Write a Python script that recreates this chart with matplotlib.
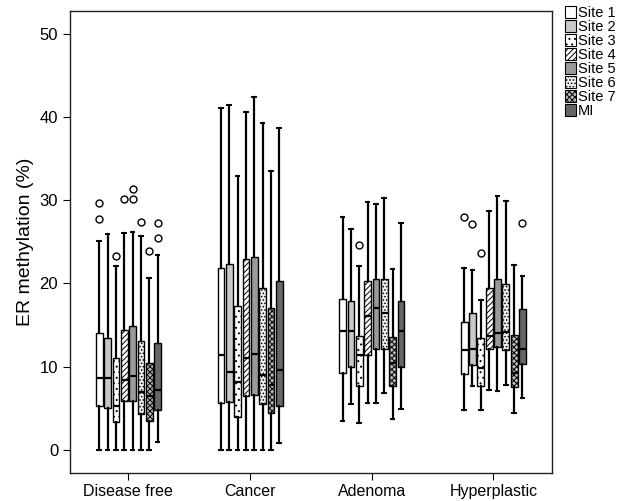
import matplotlib
matplotlib.use('Agg')
import matplotlib.pyplot as plt
from matplotlib.patches import Patch

plt.rcParams['font.family'] = ['Liberation Sans', 'DejaVu Sans']
plt.rcParams['hatch.linewidth'] = 0.7

# Data
groups = ["Disease free", "Cancer", "Adenoma", "Hyperplastic"]
sites = ["Site 1", "Site 2", "Site 3", "Site 4", "Site 5", "Site 6", "Site 7", "MI"]

# per group: 8 values, one per site
whislo = [
    [0, 0, 0, 0, 0, 0, 0, 1.0],
    [0, 0, 0, 0, 0, 0, 0, 0.8],
    [3.5, 5.5, 3.3, 5.6, 5.7, 6.8, 3.7, 4.9],
    [4.8, 7.7, 4.8, 7.2, 7.1, 7.8, 4.4, 6.2],
]
q1 = [
    [5.3, 5.1, 3.4, 5.9, 5.9, 4.3, 3.5, 4.8],
    [5.7, 5.8, 4.0, 6.5, 6.6, 5.5, 4.5, 5.3],
    [9.3, 10.0, 7.7, 11.4, 12.1, 12.1, 7.7, 10.0],
    [9.1, 10.2, 7.7, 12.1, 12.4, 12.0, 7.6, 10.3],
]
med = [
    [8.7, 8.6, 5.3, 8.4, 8.9, 7.0, 6.5, 7.2],
    [11.4, 9.4, 8.2, 11.1, 11.5, 9.0, 7.8, 9.6],
    [14.3, 14.3, 11.4, 16.1, 17.1, 16.5, 10.5, 14.3],
    [12.0, 12.1, 9.9, 13.7, 14.1, 14.2, 9.3, 12.1],
]
q3 = [
    [14.0, 13.4, 11.1, 14.4, 14.9, 13.1, 10.4, 12.9],
    [21.8, 22.3, 17.3, 22.9, 23.2, 19.5, 17.1, 20.3],
    [18.1, 17.9, 13.7, 20.3, 20.5, 20.5, 13.6, 17.9],
    [15.4, 16.5, 13.5, 19.5, 20.5, 19.9, 13.8, 16.9],
]
whishi = [
    [25.1, 25.9, 22.1, 26.1, 26.2, 25.7, 20.7, 23.4],
    [41.0, 41.4, 32.9, 40.6, 42.4, 39.3, 33.5, 38.6],
    [28.0, 26.5, 22.1, 29.8, 29.5, 30.3, 21.7, 27.2],
    [21.8, 21.6, 18.0, 28.7, 30.5, 29.9, 22.2, 20.9],
]
outliers = [
    [[27.7, 29.6], [], [23.3], [30.1], [30.1, 31.3], [27.4], [23.9], [25.5, 27.2]],
    [[], [], [], [], [], [], [], []],
    [[], [], [24.6], [], [], [], [], []],
    [[28.0], [27.1], [23.7], [], [], [], [], [27.2]],
]

# box styles per site: facecolor, hatch
styles = [
    ("white", None),
    ("#c8c8c8", None),
    ("white", "..."),
    ("white", "//////"),
    ("#9a9a9a", None),
    ("#f0f0f0", "....."),
    ("#bbbbbb", "xxxxxx"),
    ("#666666", None),
]

fig = plt.figure(figsize=(6.19, 5.01), dpi=100)
ax = fig.add_axes([0.1131, 0.0565, 0.7782, 0.9215])

step = 0.0685
width = 0.055
for g in range(len(groups)):
    for s in range(len(sites)):
        st = [dict(whislo=whislo[g][s], q1=q1[g][s], med=med[g][s], q3=q3[g][s],
                   whishi=whishi[g][s], fliers=outliers[g][s])]
        pos = g + (s - 3.5) * step
        res = ax.bxp(st, positions=[pos], widths=width, patch_artist=True,
                     showfliers=True, manage_ticks=False,
                     boxprops=dict(linewidth=1.0, edgecolor='black'),
                     medianprops=dict(color='black', linewidth=1.6),
                     whiskerprops=dict(color='black', linewidth=1.6),
                     capprops=dict(color='black', linewidth=1.4),
                     capwidths=width * 0.55,
                     flierprops=dict(marker='o', markerfacecolor='none',
                                     markeredgecolor='black', markersize=5,
                                     markeredgewidth=1.0))
        fc, h = styles[s]
        for b in res['boxes']:
            b.set_facecolor(fc)
            if h:
                b.set_hatch(h)

ax.set_xlim(-0.48, 3.48)
ax.set_ylim(-2.72, 52.7)
ax.set_xticks(range(len(groups)))
ax.set_xticklabels(groups, fontsize=11.5)
ax.set_yticks([0, 10, 20, 30, 40, 50])
ax.tick_params(axis='y', labelsize=12, length=5, direction='out')
ax.tick_params(axis='x', length=5, direction='out')
ax.set_ylabel("ER methylation (%)", fontsize=14)
for sp in ax.spines.values():
    sp.set_linewidth(1.0)
    sp.set_color('#222222')

handles = [Patch(facecolor=fc, edgecolor='black', hatch=h, linewidth=0.8)
           for fc, h in styles]
fig.legend(handles, sites, loc='upper left', bbox_to_anchor=(0.912, 0.988),
           frameon=False, fontsize=10.5, handlelength=0.8, handleheight=0.8,
           handletextpad=0.1, labelspacing=0.0, borderaxespad=0, borderpad=0)

fig.savefig("out.png", dpi=100)
